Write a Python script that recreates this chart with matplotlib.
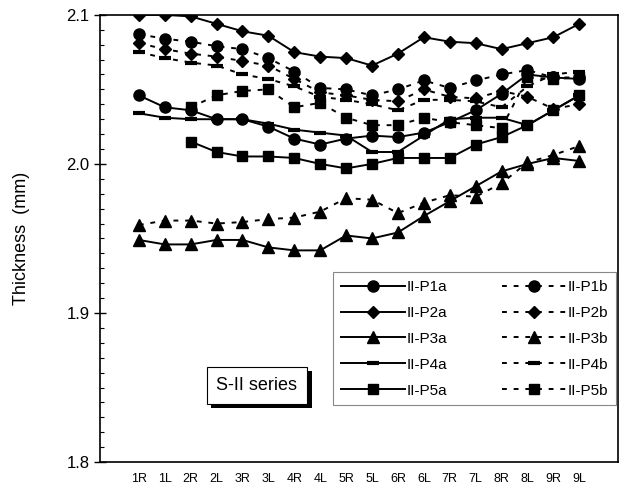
import numpy as np
import matplotlib
matplotlib.use("Agg")
import matplotlib.pyplot as plt
import matplotlib.patheffects as pe

plt.rcParams['font.family'] = ['Liberation Sans', 'DejaVu Sans']

nan = np.nan
categories = ['1R', '1L', '2R', '2L', '3R', '3L', '4R', '4L', '5R', '5L',
              '6R', '6L', '7R', '7L', '8R', '8L', '9R', '9L']

p1a = [2.046, 2.038, 2.036, 2.030, 2.030, 2.025, 2.017, 2.013, 2.017, 2.019, 2.018, 2.021, 2.028, 2.036, 2.047, 2.060, 2.058, 2.057]
p1b = [2.087, 2.084, 2.082, 2.079, 2.077, 2.071, 2.062, 2.051, 2.050, 2.046, 2.050, 2.056, 2.051, 2.056, 2.060, 2.063, 2.058, 2.058]
p2a = [2.100, 2.100, 2.099, 2.094, 2.089, 2.086, 2.075, 2.072, 2.071, 2.066, 2.074, 2.085, 2.082, 2.081, 2.077, 2.081, 2.085, 2.094]
p2b = [2.081, 2.077, 2.074, 2.072, 2.069, 2.066, 2.057, 2.048, 2.046, 2.043, 2.042, 2.050, 2.045, 2.044, 2.049, 2.045, 2.037, 2.040]
p3a = [1.949, 1.946, 1.946, 1.949, 1.949, 1.944, 1.942, 1.942, 1.952, 1.950, 1.954, 1.965, 1.975, 1.985, 1.995, 2.000, 2.004, 2.002]
p3b = [1.959, 1.962, 1.962, 1.960, 1.961, 1.963, 1.964, 1.968, 1.977, 1.976, 1.967, 1.974, 1.979, 1.978, 1.987, 2.001, 2.006, 2.012]
p4a = [2.034, 2.031, 2.030, 2.030, 2.030, 2.027, 2.023, 2.021, 2.019, 2.008, 2.008, 2.019, 2.030, 2.031, 2.031, 2.026, 2.036, 2.046]
p4b = [2.075, 2.071, 2.068, 2.066, 2.060, 2.057, 2.052, 2.045, 2.043, 2.040, 2.036, 2.043, 2.043, 2.042, 2.038, 2.052, 2.060, 2.062]
p5a = [nan, nan, 2.015, 2.008, 2.005, 2.005, 2.004, 2.000, 1.997, 2.000, 2.004, 2.004, 2.004, 2.013, 2.018, 2.026, 2.036, 2.046]
p5b = [nan, nan, 2.038, 2.046, 2.049, 2.050, 2.038, 2.041, 2.031, 2.026, 2.026, 2.031, 2.028, 2.026, 2.024, 2.058, 2.057, 2.058]

labels_a = ['II-P1a', 'II-P2a', 'II-P3a', 'II-P4a', 'II-P5a']
labels_b = ['II-P1b', 'II-P2b', 'II-P3b', 'II-P4b', 'II-P5b']
series_a = [p1a, p2a, p3a, p4a, p5a]
series_b = [p1b, p2b, p3b, p4b, p5b]
markers = ['o', 'D', '^', '_', 's']
msizes = [8, 6.5, 8, 8, 7.5]

fig = plt.figure(figsize=(6.25, 4.96), dpi=100)
ax = fig.add_axes([0.16, 0.0685, 0.829, 0.9015])
x = np.arange(len(categories))

handles_a, handles_b = [], []
for s, lab, m, ms in zip(series_a, labels_a, markers, msizes):
    mew = 3 if m == '_' else 1
    h, = ax.plot(x, s, color='black', lw=1.4, marker=m, markersize=ms,
                 markeredgewidth=mew, label=lab)
    handles_a.append(h)
for s, lab, m, ms in zip(series_b, labels_b, markers, msizes):
    mew = 3 if m == '_' else 1
    h, = ax.plot(x, s, color='black', lw=1.4, ls=(0, (2.5, 3.5)), marker=m,
                 markersize=ms, markeredgewidth=mew, label=lab)
    handles_b.append(h)

ax.set_xlim(-1.5, 18.5)
ax.set_ylim(1.8, 2.1)
ax.set_xticks(x)
ax.set_xticklabels(categories, fontsize=9)
ax.tick_params(axis='x', length=0, pad=8)
ax.set_yticks([1.8, 1.9, 2.0, 2.1])
ax.set_yticklabels(['1.8', '1.9', '2.0', '2.1'], fontsize=12)
ax.set_yticks(np.arange(1.8, 2.1001, 0.01), minor=True)
ax.tick_params(axis='y', which='major', direction='inout', length=8, width=1)
ax.tick_params(axis='y', which='minor', direction='in', length=3, width=0.8)
ax.set_ylabel('Thickness  (mm)', fontsize=13, labelpad=26)
for sp in ax.spines.values():
    sp.set_linewidth(1.2)

leg = ax.legend(handles_a + handles_b, labels_a + labels_b, ncol=2,
                loc='lower left', bbox_to_anchor=(0.45, 0.127, 0.545, 0.315),
                mode='expand', fontsize=11, handlelength=4.2, handletextpad=0.1,
                columnspacing=0.8, labelspacing=0.78, frameon=True,
                fancybox=False, edgecolor='#888888', framealpha=1,
                borderaxespad=0, borderpad=0.5)
leg.get_frame().set_linewidth(0.8)

t = ax.text(0.303, 0.172, 'S-II series', transform=ax.transAxes, fontsize=13,
            ha='center', va='center',
            bbox=dict(boxstyle='square,pad=0.55', fc='white', ec='black', lw=0.8))
t.get_bbox_patch().set_path_effects([
    pe.SimplePatchShadow(offset=(3, -3), shadow_rgbFace='black', alpha=1),
    pe.Normal()])

fig.savefig('out.png', dpi=100)
